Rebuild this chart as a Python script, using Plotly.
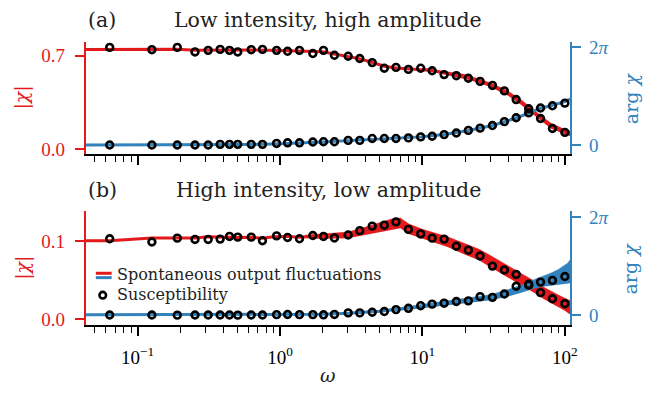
import plotly.graph_objects as go
import math

# ---------------- data ----------------
w_pts = [0.0637, 0.126, 0.190, 0.253, 0.313, 0.380, 0.442, 0.505, 0.628, 0.753,
         0.946, 1.13, 1.37, 1.70, 2.02, 2.41, 3.01, 3.63, 4.44, 5.40, 6.52, 7.97,
         9.72, 11.7, 14.2, 17.3, 21.0, 25.4, 31.0, 37.6, 45.5, 55.7, 67.5, 81.8, 100.0]

a_abs_pts = [0.761, 0.744, 0.761, 0.727, 0.739, 0.746, 0.739, 0.727, 0.744, 0.746,
             0.739, 0.732, 0.739, 0.715, 0.739, 0.702, 0.695, 0.678, 0.647, 0.605,
             0.611, 0.596, 0.605, 0.586, 0.557, 0.549, 0.530, 0.506, 0.476, 0.435,
             0.370, 0.301, 0.228, 0.153, 0.124]
a_arg_pts = [0.0, 0.0, 0.0, 0.0, 0.0, 0.04, 0.04, 0.04, 0.04, 0.04,
             0.10, 0.14, 0.14, 0.19, 0.21, 0.21, 0.293, 0.293, 0.418, 0.418,
             0.418, 0.455, 0.518, 0.562, 0.668, 0.768, 0.936, 1.079, 1.248, 1.497,
             1.747, 2.059, 2.371, 2.515, 2.683]
b_abs_pts = [0.1029, 0.0988, 0.1037, 0.1021, 0.1021, 0.1025, 0.1059, 0.1050, 0.1050, 0.1004,
             0.1066, 0.1046, 0.1029, 0.1071, 0.1059, 0.1040, 0.1078, 0.1133, 0.1191, 0.1203,
             0.1245, 0.1149, 0.1091, 0.1037, 0.1025, 0.0934, 0.0884, 0.0809, 0.0680, 0.0630,
             0.0573, 0.0436, 0.0340, 0.0262, 0.0199]
b_arg_pts = [0.01, 0.01, 0.0, 0.01, 0.01, 0.01, 0.01, 0.0, 0.01, 0.01,
             0.03, 0.04, 0.03, 0.03, 0.02, 0.044, 0.144, 0.144, 0.187, 0.231,
             0.356, 0.437, 0.605, 0.705, 0.767, 0.874, 0.918, 1.186, 1.142, 1.354,
             1.853, 1.978, 2.121, 2.228, 2.477]

# spontaneous fluctuations, panel (a)
a_w_abs = [0.0434, 0.0637, 0.126, 0.19, 0.253, 0.38, 0.63, 1.0, 1.37, 2.0, 2.4, 3.0, 3.6,
           4.4, 5.4, 6.5, 8.0, 9.7, 11.7, 14.2, 17.3, 21, 25.4, 31, 37.6, 45.5, 55.7,
           67.5, 81.8, 100, 108.8]
a_abs_line = [0.745, 0.745, 0.745, 0.747, 0.740, 0.742, 0.742, 0.738, 0.735, 0.728, 0.712,
              0.695, 0.677, 0.650, 0.620, 0.607, 0.600, 0.598, 0.588, 0.568, 0.550, 0.530,
              0.505, 0.475, 0.435, 0.375, 0.300, 0.228, 0.160, 0.127, 0.115]
a_w_band = [10, 20, 30, 40, 50, 60, 70, 80, 90, 100, 108.8]
a_abs_hi = [0.607, 0.557, 0.495, 0.432, 0.363, 0.294, 0.238, 0.193, 0.165, 0.145, 0.133]
a_abs_lo = [0.591, 0.533, 0.465, 0.398, 0.327, 0.258, 0.202, 0.157, 0.129, 0.109, 0.097]
a_w_arg = [0.0434, 0.3, 0.6, 1.0, 1.5, 2, 3, 4.4, 6.5, 9.7, 14.2, 21, 31, 45.5, 55.7,
           67.5, 81.8, 100, 108.8]
a_arg_line = [0.0, 0.0, 0.03, 0.08, 0.13, 0.19, 0.28, 0.36, 0.42, 0.52, 0.67, 0.93, 1.25,
              1.73, 2.05, 2.36, 2.55, 2.78, 2.95]

# spontaneous fluctuations, panel (b)
b_w_abs = [0.0434, 0.0637, 0.126, 0.19, 0.253, 0.313, 0.38, 0.5, 0.63, 0.75, 0.9, 1.13,
           1.37, 1.7, 2, 2.4, 3, 4, 5, 6, 7, 8, 10, 12, 15, 20, 25, 30, 40, 50, 60, 70,
           80, 90, 100, 108.8]
b_abs_line = [0.1005, 0.1005, 0.104, 0.1045, 0.104, 0.1055, 0.105, 0.1045, 0.105, 0.1035,
              0.1055, 0.106, 0.105, 0.1065, 0.106, 0.106, 0.1075, 0.113, 0.118, 0.1215,
              0.123, 0.1155, 0.109, 0.1045, 0.099, 0.0895, 0.0825, 0.074, 0.061, 0.051,
              0.042, 0.034, 0.028, 0.023, 0.019, 0.015]
b_w_abs_band = [1.5, 2, 3, 4, 5, 6, 7, 8, 10, 12, 15, 20, 25, 30, 40, 50, 60, 70, 80, 90,
                100, 108.8]
b_abs_hi = [0.1075, 0.109, 0.1115, 0.118, 0.124, 0.128, 0.1295, 0.122, 0.115, 0.1105,
            0.1055, 0.0965, 0.0895, 0.0815, 0.0685, 0.0585, 0.0495, 0.0415, 0.0355,
            0.031, 0.027, 0.024]
b_abs_lo = [0.1035, 0.103, 0.1035, 0.108, 0.112, 0.115, 0.1165, 0.109, 0.103, 0.0985,
            0.0925, 0.0825, 0.0755, 0.0665, 0.0535, 0.0435, 0.0345, 0.0265, 0.0205,
            0.015, 0.011, 0.006]
b_w_arg = [0.0434, 0.5, 1, 2, 3, 5, 8, 10, 15, 20, 30, 40, 50, 60, 70, 80, 90, 100, 108.8]
b_arg_line = [0.02, 0.02, 0.03, 0.06, 0.12, 0.25, 0.45, 0.58, 0.78, 0.92, 1.13, 1.42, 1.7,
              1.98, 2.15, 2.3, 2.45, 2.62, 2.8]
b_w_arg_band = [3, 5, 8, 10, 15, 20, 30, 40, 50, 60, 70, 80, 90, 100, 105, 108.8]
b_arg_hi = [0.17, 0.32, 0.55, 0.70, 0.92, 1.08, 1.31, 1.64, 1.95, 2.26, 2.48, 2.70, 2.93,
            3.20, 3.35, 3.55]
b_arg_lo = [0.07, 0.18, 0.35, 0.46, 0.64, 0.76, 0.95, 1.20, 1.45, 1.70, 1.82, 1.90, 1.97,
            2.04, 2.05, 2.05]

titles = ["Low intensity, high amplitude", "High intensity, low amplitude"]
panel_tags = ["(a)", "(b)"]
legend_labels = ["Spontaneous output fluctuations", "Susceptibility"]
x_tickvals = [0.1, 1, 10, 100]
x_ticktext = ["10<sup>\u22121</sup>", "10<sup>0</sup>", "10<sup>1</sup>", "10<sup>2</sup>"]

# ---------------- style ----------------
RED = "#e31a1c"
BLUE = "#3182bd"
W, H = 668, 393
SERIF = "DejaVu Serif"
NUM = "Liberation Serif"

def px(x):
    return x / W

def py(y):
    return (H - y) / H

fig = go.Figure()

def band(w, lo, hi, color, xa, ya):
    fig.add_trace(go.Scatter(x=w, y=lo, mode="lines", line=dict(width=0, color=color),
                             xaxis=xa, yaxis=ya, showlegend=False, hoverinfo="skip"))
    fig.add_trace(go.Scatter(x=w, y=hi, mode="lines", line=dict(width=0.5, color=color),
                             fill="tonexty", fillcolor=color,
                             xaxis=xa, yaxis=ya, showlegend=False, hoverinfo="skip"))

def line(w, v, color, xa, ya):
    fig.add_trace(go.Scatter(x=w, y=v, mode="lines", line=dict(width=3, color=color),
                             xaxis=xa, yaxis=ya, showlegend=False))

def pts(w, v, xa, ya):
    fig.add_trace(go.Scatter(x=w, y=v, mode="markers",
                             marker=dict(symbol="circle-open", size=6.8, color="black",
                                         line=dict(width=2.6, color="black")),
                             xaxis=xa, yaxis=ya, showlegend=False))

# panel (a): |chi| on y, arg on y2, |chi| circles on y5 (same range as y)
band(a_w_band, a_abs_lo, a_abs_hi, RED, "x", "y")
line(a_w_abs, a_abs_line, RED, "x", "y")
line(a_w_arg, a_arg_line, BLUE, "x", "y2")
pts(w_pts, a_arg_pts, "x", "y2")
pts(w_pts, a_abs_pts, "x", "y5")

# panel (b)
band(b_w_abs_band, b_abs_lo, b_abs_hi, RED, "x2", "y3")
line(b_w_abs, b_abs_line, RED, "x2", "y3")
band(b_w_arg_band, b_arg_lo, b_arg_hi, BLUE, "x2", "y4")
line(b_w_arg, b_arg_line, BLUE, "x2", "y4")
pts(w_pts, b_arg_pts, "x2", "y4")
pts(w_pts, b_abs_pts, "x2", "y6")

# ---------------- axes ----------------
xdom = [px(87), px(577)]
top_dom = [py(153), py(38)]
bot_dom = [py(329), py(212.3)]
xrange_log = [math.log10(0.0434), math.log10(108.8)]

xcommon = dict(type="log", range=xrange_log, domain=xdom, showgrid=False, zeroline=False,
               showline=True, linecolor="black", linewidth=2, ticks="outside", ticklen=9,
               tickwidth=1.5, tickcolor="black", tickvals=x_tickvals, ticktext=x_ticktext,
               ticklabelstandoff=5,
               minor=dict(ticks="outside", ticklen=6, tickwidth=1.3, tickcolor="black",
                          dtick="D1", showgrid=False),
               tickfont=dict(family=NUM, size=19, color="black"))

def yleft(dom, rng, tv, tt, anchor):
    return dict(domain=dom, range=rng, tickvals=tv, ticktext=tt, anchor=anchor,
                showgrid=False, zeroline=False, showline=True, linecolor=RED, linewidth=2.2,
                ticks="outside", ticklen=9, tickwidth=1.8, tickcolor=RED,
                ticklabelstandoff=6,
                tickfont=dict(family=NUM, size=19, color=RED))

def yright(over, rng, anchor):
    return dict(overlaying=over, side="right", range=rng, anchor=anchor,
                tickvals=[0, 2 * math.pi], ticktext=["0", "2<i>\u03c0</i>"],
                showgrid=False, zeroline=False, showline=True, linecolor=BLUE, linewidth=2.2,
                ticks="outside", ticklen=9, tickwidth=1.8, tickcolor=BLUE,
                ticklabelstandoff=4,
                tickfont=dict(family=NUM, size=19, color=BLUE))

top_rng = [-0.036, 0.802]
bot_rng = [-0.0071, 0.138]

fig.update_layout(
    width=W, height=H, margin=dict(l=0, r=0, t=0, b=0),
    paper_bgcolor="white", plot_bgcolor="white", showlegend=False,
    xaxis=dict(xcommon, anchor="y", showticklabels=False),
    xaxis2=dict(xcommon, anchor="y3", showticklabels=True),
    yaxis=yleft(top_dom, top_rng, [0, 0.7], ["0.0", "0.7"], "x"),
    yaxis2=yright("y", [-0.56, 6.61], "x"),
    yaxis3=yleft(bot_dom, bot_rng, [0, 0.1], ["0.0", "0.1"], "x2"),
    yaxis4=yright("y3", [-0.62, 6.66], "x2"),
    yaxis5=dict(overlaying="y", range=top_rng, visible=False, anchor="x"),
    yaxis6=dict(overlaying="y3", range=bot_rng, visible=False, anchor="x2"),
)

# ---------------- text ----------------
ann = []
for tag, title, yc in zip(panel_tags, titles, [15.5, 190]):
    ann.append(dict(text=tag, x=px(87), y=py(yc), xref="paper", yref="paper",
                    xanchor="left", yanchor="middle", showarrow=False,
                    font=dict(family=SERIF, size=20.5, color="#222")))
    ann.append(dict(text=title, x=px(332), y=py(yc), xref="paper", yref="paper",
                    xanchor="center", yanchor="middle", showarrow=False,
                    font=dict(family=SERIF, size=20.5, color="#222")))
for yc in [95.5, 270.7]:
    ann.append(dict(text="|<i>\u03c7</i>|", x=px(22), y=py(yc), xref="paper", yref="paper",
                    xanchor="center", yanchor="middle", showarrow=False, textangle=-90,
                    font=dict(family=SERIF, size=19, color=RED)))
    ann.append(dict(text="arg <i>\u03c7</i>", x=px(638), y=py(yc), xref="paper", yref="paper",
                    xanchor="center", yanchor="middle", showarrow=False, textangle=-90,
                    font=dict(family=SERIF, size=19, color=BLUE)))
ann.append(dict(text="<i>\u03c9</i>", x=px(332), y=py(381), xref="paper", yref="paper",
                xanchor="center", yanchor="middle", showarrow=False,
                font=dict(family=SERIF, size=19, color="#222")))
# legend text
for lbl, yc in zip(legend_labels, [277.5, 297.5]):
    ann.append(dict(text=lbl, x=px(118), y=py(yc), xref="paper", yref="paper",
                    xanchor="left", yanchor="middle", showarrow=False,
                    borderpad=0, borderwidth=0,
                    font=dict(family=SERIF, size=16, color="#222")))
fig.update_layout(annotations=ann)

# legend handles
shapes = [
    dict(type="line", xref="paper", yref="paper", x0=px(97), x1=px(113),
         y0=py(276), y1=py(276), line=dict(color=RED, width=3)),
    dict(type="line", xref="paper", yref="paper", x0=px(97), x1=px(113),
         y0=py(280.5), y1=py(280.5), line=dict(color=BLUE, width=3)),
    dict(type="circle", xref="paper", yref="paper", xsizemode="pixel", ysizemode="pixel",
         xanchor=px(104), yanchor=py(298.5), x0=-3.3, x1=3.3, y0=-3.3, y1=3.3,
         line=dict(color="black", width=2.6)),
]
fig.update_layout(shapes=shapes)

fig.write_html("out.html")
